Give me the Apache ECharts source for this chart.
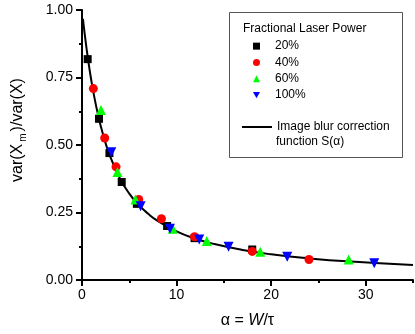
<!DOCTYPE html>
<html>
<head>
<meta charset="utf-8">
<script src="https://cdn.jsdelivr.net/npm/echarts@6/dist/echarts.min.js"></script>
<style>
  html, body { margin: 0; padding: 0; background: #fff; }
  #chart { width: 415px; height: 334px; }
</style>
</head>
<body>
<div id="chart"></div>
<script>
// alpha, var ratio pairs
const p20 = [[0.6, 0.818], [1.8, 0.597], [2.9, 0.47], [4.2, 0.363], [5.8, 0.282], [9.0, 0.2], [11.9, 0.155], [18.0, 0.113]]
const p40 = [[1.2, 0.709], [2.4, 0.526], [3.6, 0.419], [6.0, 0.298], [8.4, 0.227], [11.9, 0.16], [18.0, 0.106], [24.0, 0.076]]
const p60 = [[2.0, 0.63], [3.75, 0.40], [5.65, 0.298], [9.6, 0.19], [13.2, 0.144], [18.85, 0.105], [28.2, 0.076]]
const p100 = [[3.1, 0.473], [6.2, 0.273], [9.3, 0.19], [12.4, 0.15], [15.5, 0.123], [21.7, 0.086], [30.9, 0.062]]

// correction curve S(alpha)
const curveX = [0.1, 0.3, 0.6, 1, 1.5, 2, 2.5, 3, 4, 5, 6, 7, 8, 10, 12, 14, 17, 20, 24, 28, 35]
const curveY = [0.967, 0.907, 0.827, 0.736, 0.643, 0.568, 0.506, 0.456, 0.377, 0.32, 0.278, 0.245, 0.219, 0.18, 0.153, 0.133, 0.111, 0.095, 0.08, 0.069, 0.056]

const xMajor = [0, 10, 20, 30]
const xMinor = [5, 15, 25, 35]
const legendNames = ['20%', '40%', '60%', '100%']
const curveName = 'Image blur correction'

const font = 'Liberation Sans, Arial, sans-serif'
const downTri = 'path://M0,0L10,0L5,9Z'
const chart = echarts.init(document.getElementById('chart'))

const axisLine = { lineStyle: { color: '#000', width: 2 } }

chart.setOption({
  animation: false,
  grid: { left: 76, right: 2, top: 10, bottom: 53 },
  graphic: [
    { type: 'rect', shape: { x: 229.5, y: 12.5, width: 173, height: 145 },
      style: { fill: '#fff', stroke: '#555', lineWidth: 1 }, z: 0 },
    { type: 'text', x: 243, y: 29,
      style: { text: 'Fractional Laser Power', font: '12px ' + font, fill: '#000', verticalAlign: 'middle' }, z: 10 },
    { type: 'text', x: 276, y: 142,
      style: { text: 'function S(α)', font: '12px ' + font, fill: '#000', verticalAlign: 'middle' }, z: 10 }
  ],
  legend: [
    { data: legendNames.map(n => n === '100%' ? { name: n, icon: downTri } : n),
      orient: 'vertical', left: 248, top: 33, itemWidth: 7, itemHeight: 7, itemGap: 0,
      textStyle: { fontFamily: font, fontSize: 12, color: '#000', lineHeight: 16.3, padding: [0, 0, 0, 10] }, z: 10 },
    { data: [{ name: curveName, icon: 'rect' }], left: 237, top: 114, itemWidth: 30, itemHeight: 2,
      textStyle: { fontFamily: font, fontSize: 12, color: '#000', lineHeight: 16 }, z: 10 }
  ],
  xAxis: [{
    type: 'value', min: 0, max: 35, interval: 10,
    name: '{a|α = }{i|W}{a|/τ}', nameLocation: 'middle', nameGap: 33,
    nameTextStyle: { rich: {
      a: { fontFamily: font, fontSize: 16, color: '#000' },
      i: { fontFamily: font, fontSize: 16, color: '#000', fontStyle: 'italic' } } },
    axisLine: axisLine,
    axisTick: { length: 6, lineStyle: { color: '#000', width: 2 }, customValues: xMajor },
    axisLabel: { customValues: xMajor, margin: 8, fontFamily: font, fontSize: 14, color: '#000' },
    splitLine: { show: false }
  }, {
    type: 'value', min: 0, max: 35, position: 'bottom',
    axisLine: { show: false },
    axisTick: { length: 3, lineStyle: { color: '#000', width: 2 }, customValues: xMinor },
    axisLabel: { show: false },
    splitLine: { show: false }
  }],
  yAxis: {
    type: 'value', min: 0, max: 1, interval: 0.25,
    name: '{a|var(X}{s|m}{a|)/var(X)}', nameLocation: 'middle', nameGap: 54, nameRotate: 90,
    nameTextStyle: { padding: [0, 0, 0, 30], rich: {
      a: { fontFamily: font, fontSize: 16, color: '#000', lineHeight: 20 },
      s: { fontFamily: font, fontSize: 10, color: '#000', lineHeight: 20, verticalAlign: 'bottom', padding: [10, 2, 0, 2] } } },
    axisLine: axisLine,
    axisTick: { length: 6, lineStyle: { color: '#000', width: 2 } },
    minorTick: { show: true, splitNumber: 2, length: 3, lineStyle: { color: '#000', width: 2 } },
    axisLabel: { margin: 9, fontFamily: font, fontSize: 14, color: '#000', formatter: v => v.toFixed(2) },
    splitLine: { show: false }
  },
  series: [
    { name: curveName, type: 'line', data: curveX.map((x, i) => [x, curveY[i]]),
      smooth: true, showSymbol: false, symbol: 'none', lineStyle: { color: '#000', width: 2 }, itemStyle: { color: '#000' }, z: 1 },
    { name: '20%', type: 'scatter', data: p20, symbol: 'rect', symbolSize: 8, itemStyle: { color: '#000', opacity: 1 }, z: 2 },
    { name: '40%', type: 'scatter', data: p40, symbol: 'circle', symbolSize: 9, itemStyle: { color: '#ff0000', opacity: 1 }, z: 2 },
    { name: '60%', type: 'scatter', data: p60, symbol: 'triangle', symbolSize: 10, itemStyle: { color: '#00ff00', opacity: 1 }, z: 2 },
    { name: '100%', type: 'scatter', data: p100, symbol: 'triangle', symbolRotate: 180, symbolSize: 10, itemStyle: { color: '#0000ff', opacity: 1 }, z: 2 }
  ]
})
</script>
</body>
</html>
